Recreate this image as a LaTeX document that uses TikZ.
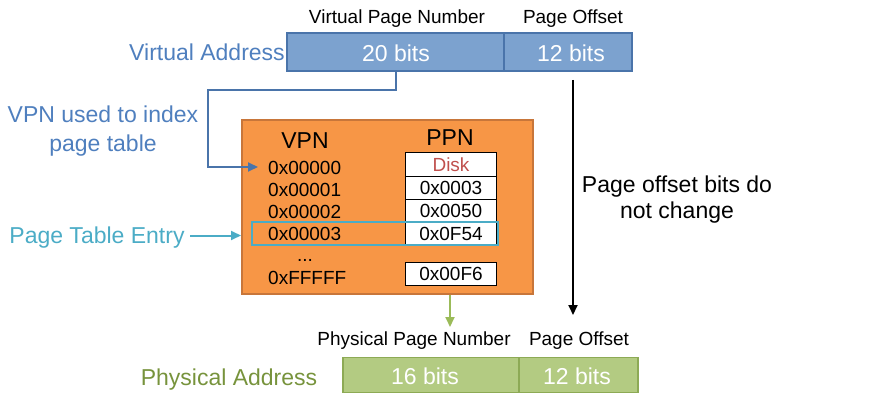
\documentclass[tikz,border=0pt]{standalone}
\usepackage{fontspec}
\setmainfont{Liberation Sans}
\usetikzlibrary{arrows.meta}
\definecolor{vfill}{HTML}{7CA2CF}
\definecolor{vdraw}{HTML}{4A74AA}
\definecolor{vtext}{HTML}{4F7FBE}
\definecolor{ofill}{HTML}{F79646}
\definecolor{odraw}{HTML}{C8763A}
\definecolor{teal}{HTML}{4BACC6}
\definecolor{gfill}{HTML}{B3CB82}
\definecolor{gdraw}{HTML}{8DAA55}
\definecolor{gtext}{HTML}{77933C}
\definecolor{gline}{HTML}{9BBB59}
\definecolor{redtext}{HTML}{C0504D}
\begin{document}
\begin{tikzpicture}[x=1pt,y=-1pt,
  lbl/.style={font=\fontsize{19}{22}\selectfont, anchor=base, inner sep=0pt},
  big/.style={font=\fontsize{23}{27}\selectfont, anchor=base, inner sep=0pt},
  tbl/.style={font=\fontsize{19}{22}\selectfont, anchor=base west, inner sep=0pt},
  vbox/.style={draw=vdraw, fill=vfill, line width=1.8pt, inner sep=0pt, outer sep=0pt},
  gbox/.style={draw=gdraw, fill=gfill, line width=1.8pt, inner sep=0pt, outer sep=0pt},
  cell/.style={draw=black, fill=white, line width=1pt, inner sep=0pt, outer sep=0pt,
    minimum width=91.5pt, minimum height=23pt, font=\fontsize{19}{22}\selectfont},
  barrow/.style={draw=vdraw, line width=2pt, -{Triangle[length=10pt,width=9pt]}},
  tarrow/.style={draw=teal, line width=2pt, -{Triangle[length=10pt,width=9pt]}},
  garrow/.style={draw=gline, line width=2pt, -{Triangle[length=10pt,width=9pt]}},
  karrow/.style={draw=black, line width=2pt, -{Triangle[length=10pt,width=9pt]}}]
\useasboundingbox (0,0) rectangle (886,409);

% Virtual address
\node[lbl] (vpnlbl) at (397,24) {Virtual Page Number};
\node[lbl] (vofflbl) at (573,24) {Page Offset};
\node[vbox, minimum width=217pt, minimum height=38pt] (vpn) at (395.5,52) {};
\node[vbox, minimum width=128pt, minimum height=38pt] (voff) at (568,52) {};
\node[big, white] (v20) at (396,62) {20 bits};
\node[big, white] (v12) at (571,62) {12 bits};
\node[big, text=vtext] (valbl) at (207,61) {Virtual Address};

% annotation
\node[big, text=vtext] (note1) at (103,123) {VPN used to index};
\node[big, text=vtext] (note2) at (103,151) {page table};
\node[big, text=teal] (pte) at (97,243) {Page Table Entry};

% page table
\node[draw=odraw, fill=ofill, line width=1.8pt, minimum width=291pt, minimum height=174pt, inner sep=0pt] (table) at (387.5,207) {};
\node[big] (vpnh) at (305,149) {VPN};
\node[big] (ppnh) at (450,146) {PPN};
\node[tbl] (e0) at (268,174) {0x00000};
\node[tbl] (e1) at (268,196) {0x00001};
\node[tbl] (e2) at (268,218) {0x00002};
\node[tbl] (e3) at (268,240) {0x00003};
\node[lbl] (edots) at (305,261) {...};
\node[tbl] (e4) at (268,284) {0xFFFFF};
\node[cell, text=redtext] (c0) at (451,164.5) {Disk};
\node[cell] (c1) at (451,187.8) {0x0003};
\node[cell] (c2) at (451,211) {0x0050};
\node[cell] (c3) at (451,234.2) {0x0F54};
\node[cell] (c4) at (451,273.5) {0x00F6};
\node[draw=teal, line width=2pt, minimum width=246.6pt, minimum height=22.7pt, inner sep=0pt] (hl) at (375,233.7) {};

% page offset
\node[big] (off1) at (677,192) {Page offset bits do};
\node[big] (off2) at (677,218) {not change};

% physical address
\node[lbl] (ppnlbl) at (414,345) {Physical Page Number};
\node[lbl] (pofflbl) at (579,345) {Page Offset};
\node[gbox, minimum width=176pt, minimum height=35pt] (ppn) at (431,375) {};
\node[gbox, minimum width=119pt, minimum height=35pt] (poff) at (578.5,375) {};
\node[big, white] (p16) at (425,384) {16 bits};
\node[big, white] (p12) at (577,384) {12 bits};
\node[big, text=gtext] (palbl) at (229,385) {Physical Address};

% connectors
\coordinate (b1) at (395.5,90);
\coordinate (b2) at (208,90);
\coordinate (b3) at (208,167);
\coordinate (vtip) at (258,167);
\draw[barrow] (vpn.south) -- (b1) -- (b2) -- (b3) -- (vtip);
\coordinate (ttip) at (241,235.5);
\coordinate (tstart) at (190,235.5);
\draw[tarrow] (tstart) -- (ttip);
\coordinate (gstart) at (450,295);
\coordinate (gtip) at (450,327);
\draw[garrow] (gstart) -- (gtip);
\coordinate (kstart) at (573,80);
\coordinate (ktip) at (573,315);
\draw[karrow] (kstart) -- (ktip);
\end{tikzpicture}
\end{document}
